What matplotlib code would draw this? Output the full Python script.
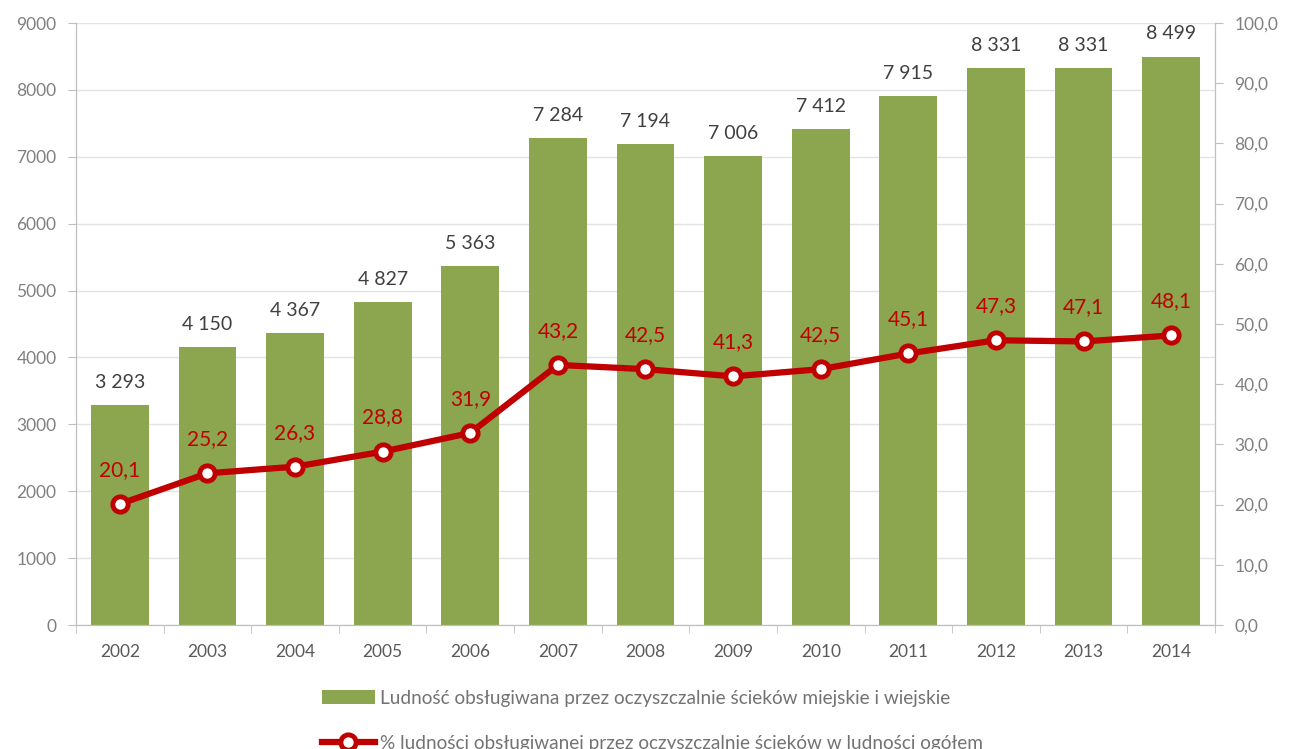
import matplotlib.pyplot as plt
import numpy as np

# population served by sewage treatment plants (thousands) and share of total population (%)
years = ['2002', '2003', '2004', '2005', '2006', '2007', '2008',
         '2009', '2010', '2011', '2012', '2013', '2014']
served = [3293, 4150, 4367, 4827, 5363, 7284, 7194, 7006, 7412, 7915, 8331, 8331, 8499]
share = [20.1, 25.2, 26.3, 28.8, 31.9, 43.2, 42.5, 41.3, 42.5, 45.1, 47.3, 47.1, 48.1]

bar_label = 'Ludność obsługiwana przez oczyszczalnie ścieków miejskie i wiejskie'
line_label = '% ludności obsługiwanej przez oczyszczalnie ścieków w ludności ogółem'

green = '#8BA64E'
red = '#C00000'
grey = '#808080'

plt.rcParams['font.family'] = ['Lato', 'DejaVu Sans']

fig = plt.figure(figsize=(12.95, 7.49), dpi=100)
ax = fig.add_axes([76 / 1295, 1 - 625 / 749, (1215 - 76) / 1295, (625 - 23) / 749])
ax2 = ax.twinx()

x = np.arange(len(years))
bars = ax.bar(x, served, width=0.66, color=green, zorder=2, label=bar_label)
for xi, v in zip(x, served):
    ax.text(xi, v + 210, f'{v:,}'.replace(',', ' '), ha='center', va='bottom',
            fontsize=14, color='#404040')

ax.set_xlim(-0.5, len(years) - 0.5)
ax.set_ylim(0, 9000)
ax.set_yticks(np.arange(0, 9001, 1000))
ax.grid(axis='y', color='#E3E3E3', linewidth=1, zorder=0)
ax.set_axisbelow(True)
ax.set_xticks(x)
ax.set_xticklabels(years)
ax.set_xticks(np.arange(-0.5, len(years), 1), minor=True)
ax.tick_params(axis='x', which='major', length=0, pad=14, labelsize=12.5, labelcolor='#595959')
ax.tick_params(axis='x', which='minor', length=6, direction='out', color='#BFBFBF')
ax.tick_params(axis='y', length=6, direction='out', color='#BFBFBF', labelsize=12.5,
               labelcolor=grey, pad=8)

ln, = ax2.plot(x, share, color=red, linewidth=4.5, marker='o', markersize=11,
               markerfacecolor='white', markeredgecolor=red, markeredgewidth=3.5,
               zorder=3, label=line_label)
for xi, v in zip(x, share):
    ax2.text(xi, v + 4.0, f'{v:.1f}'.replace('.', ','), ha='center', va='bottom',
             fontsize=15, color=red)
ax2.set_ylim(0, 100)
ax2.set_yticks(np.arange(0, 101, 10))
ax2.set_yticklabels([f'{t:.1f}'.replace('.', ',') for t in np.arange(0, 101, 10)])
ax2.tick_params(axis='y', length=6, direction='out', color='#BFBFBF', labelsize=12.5,
                labelcolor=grey, pad=8)

for a in (ax, ax2):
    a.spines['top'].set_visible(False)
    a.spines['left'].set_color('#BFBFBF')
    a.spines['right'].set_color('#BFBFBF')
    a.spines['bottom'].set_color('#BFBFBF')

fig.legend(handles=[bars, ln], loc='upper left', bbox_to_anchor=(312 / 1295, 1 - 680 / 749),
           frameon=False, fontsize=13.7, labelcolor='#737373', handlelength=2.8,
           handletextpad=0.25, labelspacing=1.5, borderpad=0)

fig.savefig('out.png', dpi=100)
